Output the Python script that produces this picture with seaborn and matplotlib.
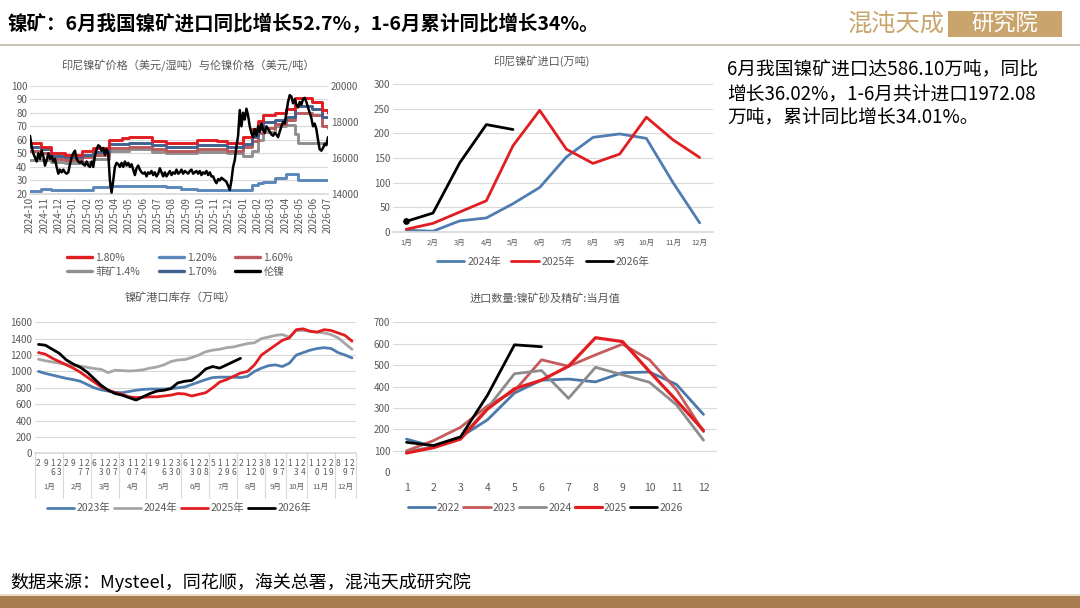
import numpy as np
import pandas as pd
import matplotlib
matplotlib.use('Agg')
import matplotlib.pyplot as plt
import matplotlib.transforms as mtransforms
from matplotlib.lines import Line2D
from matplotlib.patches import Rectangle
import seaborn as sns

sns.set_theme(style='white')
plt.rcParams['font.family'] = ['Noto Sans CJK SC', 'DejaVu Sans']
plt.rcParams['axes.unicode_minus'] = False

# ---------------- 数据 ----------------
# 图1：印尼镍矿价格（美元/湿吨，阶梯）与伦镍价格（美元/吨）
step_dates = ['2024-10-01', '2024-10-25', '2024-11-15', '2024-12-15', '2025-01-20',
              '2025-02-12', '2025-03-20', '2025-04-15', '2025-05-01', '2025-06-20',
              '2025-07-20', '2025-08-20', '2025-09-23', '2025-11-05', '2025-11-27',
              '2026-01-01', '2026-01-20', '2026-02-02', '2026-02-12', '2026-03-09',
              '2026-04-03', '2026-04-21', '2026-04-28', '2026-05-28', '2026-06-18',
              '2026-07-01']
ore_180 = [58, 55, 50, 49, 52, 54, 60, 61, 62, 59, 58, 58, 60, 59, 58,
           62, 68, 74, 78, 80, 83, 91, 91, 88, 82, 80]
ore_170 = [55, 53, 48, 47, 49, 51, 57, 57, 58, 56, 55, 55, 56, 56, 55,
           57, 62, 68, 73, 75, 77, 85, 85, 83, 77, 77]
ore_160 = [52, 50, 46, 45, 47, 49, 54, 54, 55, 53, 52, 52, 53, 53, 52,
           55, 59, 65, 69, 72, 75, 80, 80, 78, 70, 69]
ore_ph14 = [45, 45, 44, 43, 44, 46, 52, 52, 53, 51, 50, 50, 51, 51, 50,
            48, 52, 60, 66, 70, 71, 64, 58, 58, 58, 58]
ore_120 = [22, 24, 23, 23, 23, 25, 26, 26, 26, 26, 25, 24, 23, 23, 23,
           23, 27, 28, 29, 32, 35, 35, 30, 30, 30, 30]
lme_nickel = [
    17225, 16625, 16250, 16025, 15800, 16250, 15950, 16400, 16100, 15575,
    15875, 16250, 15950, 16100, 15800, 15950, 15500, 15125, 15350, 15200,
    15350, 15200, 15125, 15200, 15650, 16025, 16250, 16400, 15950, 15800,
    15725, 15800, 15650, 15575, 15800, 15575, 15500, 15800, 15500, 16100,
    16475, 16700, 16625, 16400, 16550, 16175, 16475, 16250, 14750, 14075,
    14750, 15500, 15725, 15650, 15500, 15725, 15500, 15800, 15575, 15725,
    15500, 15650, 15350, 15050, 15425, 15575, 15350, 15200, 15125, 15200,
    14975, 15200, 15125, 15275, 15050, 15200, 14975, 15125, 15425, 15200,
    14975, 15200, 14975, 15125, 15275, 15050, 15200, 15125, 15350, 15125,
    15200, 15350, 15125, 15275, 15200, 15125, 15275, 15350, 15125, 15200,
    15275, 15125, 15275, 15050, 15200, 15125, 15275, 15050, 15200, 14975,
    14975, 14750, 14600, 14825, 14750, 14900, 14825, 14750, 14675, 14450,
    14225, 14750, 15500, 15875, 16625, 17225, 18650, 17750, 18500, 18125,
    18725, 18350, 17750, 17375, 17150, 17600, 17225, 17750, 17450, 17900,
    17600, 17375, 17750, 17600, 17450, 17300, 17225, 17375, 17300, 17150,
    17450, 17750, 17975, 17900, 18500, 19100, 19475, 19400, 19025, 19250,
    18950, 18800, 19100, 18950, 19250, 19325, 19100, 18800, 18500, 18200,
    17750, 17900, 17600, 17000, 16475, 16400, 16550, 16775, 16700, 17150,
]

# 图2：印尼镍矿进口（万吨）
months = list(range(1, 13))
month_labels = ['1月', '2月', '3月', '4月', '5月', '6月', '7月', '8月', '9月', '10月', '11月', '12月']
idn_2024 = [3, 1, 22, 28, 57, 90, 152, 192, 199, 190, 100, 18]
idn_2025 = [5, 17, 40, 63, 175, 247, 168, 139, 158, 233, 187, 151]
idn_2026 = [21, 38, 140, 218, 208]

# 图3：镍矿港口库存（万吨），周度
week_days = [2, 9, 16, 23, 2, 9, 17, 27, 6, 13, 20, 27, 3, 10, 17, 24,
             1, 9, 16, 23, 30, 6, 13, 20, 28, 5, 12, 19, 26, 2, 11, 22, 30,
             8, 19, 27, 1, 13, 24, 1, 10, 21, 29, 8, 19, 27]
weeks_per_month = [4, 4, 4, 4, 5, 4, 4, 4, 3, 3, 4, 3]
inv_2023 = [1000, 975, 955, 935, 915, 900, 880, 840, 800, 775, 760, 745, 740, 755, 770,
            780, 785, 785, 785, 790, 800, 810, 840, 870, 900, 925, 930, 930, 930, 925,
            940, 1000, 1040, 1070, 1080, 1060, 1100, 1200, 1230, 1260, 1280, 1290, 1280,
            1230, 1200, 1165]
inv_2024 = [1150, 1130, 1115, 1100, 1085, 1075, 1065, 1050, 1035, 1025, 985, 1015, 1010,
            1005, 1010, 1020, 1040, 1055, 1080, 1120, 1140, 1145, 1170, 1200, 1240, 1260,
            1270, 1290, 1300, 1320, 1340, 1350, 1400, 1420, 1440, 1450, 1420, 1500, 1500,
            1490, 1480, 1470, 1450, 1410, 1340, 1270]
inv_2025 = [1230, 1210, 1160, 1120, 1080, 1040, 990, 930, 870, 810, 770, 740, 720, 690,
            680, 685, 690, 690, 700, 710, 730, 725, 700, 720, 740, 800, 870, 900, 940, 980,
            1000, 1080, 1200, 1260, 1320, 1380, 1410, 1510, 1520, 1490, 1480, 1510, 1500,
            1470, 1440, 1370]
inv_2026 = [1330, 1320, 1270, 1220, 1140, 1090, 1050, 990, 910, 830, 770, 730, 710, 680,
            650, 690, 730, 760, 770, 790, 860, 880, 890, 950, 1030, 1060, 1040, 1080, 1120,
            1160]

# 图4：进口数量:镍矿砂及精矿:当月值（万吨）
imp_2022 = [155, 120, 165, 245, 370, 430, 435, 422, 465, 468, 410, 270]
imp_2023 = [100, 148, 210, 310, 380, 525, 495, 548, 598, 525, 385, 190]
imp_2024 = [95, 120, 160, 300, 460, 475, 345, 490, 455, 420, 315, 150]
imp_2025 = [90, 115, 155, 295, 390, 430, 495, 628, 610, 470, 335, 195]
imp_2026 = [140, 125, 165, 360, 595, 586]

# ---------------- 画布 ----------------
W, H = 1080, 608
fig = plt.figure(figsize=(10.8, 6.08), dpi=100)


def box(x0, y0, x1, y1):
    return [x0 / W, 1 - y1 / H, (x1 - x0) / W, (y1 - y0) / H]


GRID = '#d9d9d9'
TXT = '#595959'
RED = '#e11d21'
BLUE = '#4f7db0'
TITLE_FS = 8


def style(ax, fs=7):
    for s in ax.spines.values():
        s.set_visible(False)
    ax.spines['bottom'].set_visible(True)
    ax.spines['bottom'].set_color(GRID)
    ax.grid(axis='y', color=GRID, lw=0.8)
    ax.set_axisbelow(True)
    ax.tick_params(labelsize=fs, colors=TXT, length=0, pad=2)
    ax.set_xlabel('')
    ax.set_ylabel('')


# ---- 图1 ----
ax1 = fig.add_axes(box(30, 85.7, 328, 194))
sd = pd.to_datetime(step_dates)
step_series = [
    (ore_120, '1.20%', '#5b87ba'),
    (ore_ph14, '菲矿1.4%', '#8f8f8f'),
    (ore_160, '1.60%', '#bb5a5d'),
    (ore_170, '1.70%', '#41618f'),
    (ore_180, '1.80%', RED),
]
h1 = {}
for vals, lab, col in step_series:
    sns.lineplot(x=sd, y=vals, ax=ax1, color=col, lw=2.1, drawstyle='steps-post',
                 legend=False)
    h1[lab] = Line2D([], [], color=col, lw=2.4)
ax1.set_ylim(20, 100)
ax1.set_yticks(range(20, 101, 10))
ax1.set_xlim(pd.Timestamp('2024-10-01'), pd.Timestamp('2026-07-01'))
mt = pd.date_range('2024-10-01', '2026-07-01', freq='MS')
ax1.set_xticks(mt)
ax1.set_xticklabels([d.strftime('%Y-%m') for d in mt], rotation=90)
style(ax1, 7)

ax1t = ax1.twinx()
lme_dates = pd.date_range('2024-10-01', '2026-07-01', periods=len(lme_nickel))
sns.lineplot(x=lme_dates, y=lme_nickel, ax=ax1t, color='black', lw=1.8, legend=False)
h1['伦镍'] = Line2D([], [], color='black', lw=2.4)
ax1t.set_ylim(14000, 20000)
ax1t.set_yticks([14000, 16000, 18000, 20000])
for s in ax1t.spines.values():
    s.set_visible(False)
ax1t.grid(False)
ax1t.tick_params(labelsize=7, colors=TXT, length=0, pad=2)
ax1t.set_ylabel('')
ax1t.set_xlim(pd.Timestamp('2024-10-01'), pd.Timestamp('2026-07-01'))

order = ['1.80%', '菲矿1.4%', '1.20%', '1.70%', '1.60%', '伦镍']
fig.legend([h1[k] for k in order], order, loc='center', ncol=3, frameon=False,
           bbox_to_anchor=(180 / W, 1 - 265 / H), fontsize=7.5, handlelength=2.4,
           columnspacing=1.8, labelspacing=0.4, handletextpad=0.3,
           labelcolor=TXT)
fig.text(188 / W, 1 - 66 / H, '印尼镍矿价格（美元/湿吨）与伦镍价格（美元/吨）',
         ha='center', va='center', fontsize=TITLE_FS, color=TXT)

# ---- 图2 ----
ax2 = fig.add_axes(box(393, 84.3, 713, 231.7))
sns.lineplot(x=months, y=idn_2024, ax=ax2, color=BLUE, lw=2.0, label='2024年', legend=False)
sns.lineplot(x=months, y=idn_2025, ax=ax2, color=RED, lw=2.0, label='2025年', legend=False)
sns.lineplot(x=months[:len(idn_2026)], y=idn_2026, ax=ax2, color='black', lw=2.0,
             label='2026年', legend=False)
sns.scatterplot(x=months[:1], y=idn_2026[:1], ax=ax2, color='black', s=28, legend=False)
ax2.set_xlim(0.5, 12.5)
ax2.set_ylim(0, 300)
ax2.set_yticks(range(0, 301, 50))
ax2.set_xticks(months)
ax2.set_xticklabels(month_labels)
style(ax2, 7)
ax2.tick_params(axis='x', labelsize=5.5, pad=5)
ax2.legend(loc='center', bbox_to_anchor=(0.47, -0.205), ncol=3, frameon=False,
           fontsize=7.5, handlelength=2.6, columnspacing=1.0, handletextpad=0.3,
           labelcolor=TXT)
fig.text(542 / W, 1 - 61 / H, '印尼镍矿进口(万吨)', ha='center', va='center',
         fontsize=TITLE_FS, color=TXT)

# ---- 图3 ----
ax3 = fig.add_axes(box(35, 322.3, 355.5, 453.3))
wk = np.arange(len(week_days))
sns.lineplot(x=wk[:len(inv_2023)], y=inv_2023, ax=ax3, color=BLUE, lw=2.0, label='2023年', legend=False)
sns.lineplot(x=wk[:len(inv_2024)], y=inv_2024, ax=ax3, color='#a6a6a6', lw=2.0, label='2024年', legend=False)
sns.lineplot(x=wk[:len(inv_2025)], y=inv_2025, ax=ax3, color=RED, lw=2.0, label='2025年', legend=False)
sns.lineplot(x=wk[:len(inv_2026)], y=inv_2026, ax=ax3, color='black', lw=2.0, label='2026年', legend=False)
ax3.set_xlim(-0.5, len(week_days) - 0.5)
ax3.set_ylim(0, 1600)
ax3.set_yticks(range(0, 1601, 200))
ax3.set_xticks(wk)
ax3.set_xticklabels(['\n'.join(str(d)) for d in week_days], linespacing=1.05)
style(ax3, 7)
ax3.tick_params(axis='x', labelsize=6, pad=4)
trans = mtransforms.blended_transform_factory(ax3.transData, ax3.transAxes)
edges = np.concatenate([[0], np.cumsum(weeks_per_month)]) - 0.5
for e in edges:
    ax3.plot([e, e], [0, -0.34], transform=trans, clip_on=False, color=GRID, lw=0.8)
for i in range(12):
    ax3.text((edges[i] + edges[i + 1]) / 2, -0.26, month_labels[i], transform=trans,
             ha='center', va='center', fontsize=5.5, color=TXT)
ax3.legend(loc='center', bbox_to_anchor=(0.45, -0.42), ncol=4, frameon=False,
           fontsize=7.5, handlelength=2.6, columnspacing=0.4, handletextpad=0.2,
           labelcolor=TXT)
fig.text(180 / W, 1 - 298 / H, '镍矿港口库存（万吨）', ha='center', va='center',
         fontsize=TITLE_FS, color=TXT)

# ---- 图4 ----
ax4 = fig.add_axes(box(393, 322.3, 717, 472.3))
for vals, lab, col, lw in [(imp_2022, '2022', '#4a78aa', 2.0),
                           (imp_2023, '2023', '#c55a5a', 2.0),
                           (imp_2024, '2024', '#8c8c8c', 2.0),
                           (imp_2025, '2025', RED, 2.3),
                           (imp_2026, '2026', 'black', 2.0)]:
    sns.lineplot(x=months[:len(vals)], y=vals, ax=ax4, color=col, lw=lw, label=lab,
                 legend=False)
ax4.set_xlim(0.5, 12.5)
ax4.set_ylim(0, 700)
ax4.set_yticks(range(0, 701, 100))
ax4.set_xticks(months)
style(ax4, 7)
ax4.spines['bottom'].set_visible(False)
ax4.tick_params(axis='x', labelsize=7.5, pad=8)
ax4.legend(loc='center', bbox_to_anchor=(0.47, -0.238), ncol=5, frameon=False,
           fontsize=7.5, handlelength=2.6, columnspacing=0.3, handletextpad=0.2,
           labelcolor=TXT)
fig.text(545 / W, 1 - 298 / H, '进口数量:镍矿砂及精矿:当月值', ha='center', va='center',
         fontsize=TITLE_FS, color=TXT)

# ---- 标题、说明、来源 ----
fig.text(8 / W, 1 - 24 / H, '镍矿：6月我国镍矿进口同比增长52.7%，1-6月累计同比增长34%。',
         ha='left', va='center', fontsize=14, fontweight='bold', color='black')
GOLD = '#c9a46c'
fig.text(848 / W, 1 - 24 / H, '混沌天成', ha='left', va='center', fontsize=17.5, color=GOLD)
fig.add_artist(Rectangle((948 / W, 1 - 37 / H), 114 / W, 26 / H, transform=fig.transFigure,
                         facecolor=GOLD, edgecolor='none'))
fig.text(1005 / W, 1 - 24 / H, '研究院', ha='center', va='center', fontsize=16, color='white')
fig.add_artist(Line2D([0, 1], [1 - 45 / H, 1 - 45 / H], transform=fig.transFigure,
                      color='#cbc3b7', lw=1.5))

note = ['6月我国镍矿进口达586.10万吨，同比',
        '增长36.02%，1-6月共计进口1972.08',
        '万吨，累计同比增长34.01%。']
for i, line in enumerate(note):
    fig.text(727 / W, 1 - (70 + i * 23.5) / H, line, ha='left', va='center',
             fontsize=13.5, color='black')

fig.text(10 / W, 1 - 582 / H, '数据来源：Mysteel，同花顺，海关总署，混沌天成研究院',
         ha='left', va='center', fontsize=13, color='black')
fig.add_artist(Rectangle((0, 0), 1, 12 / H, transform=fig.transFigure,
                         facecolor='#a97c50', edgecolor='none'))
fig.add_artist(Rectangle((0, 12 / H), 1, 2 / H, transform=fig.transFigure,
                         facecolor='#e8dcc6', edgecolor='none'))

fig.savefig('out.png', dpi=100)
